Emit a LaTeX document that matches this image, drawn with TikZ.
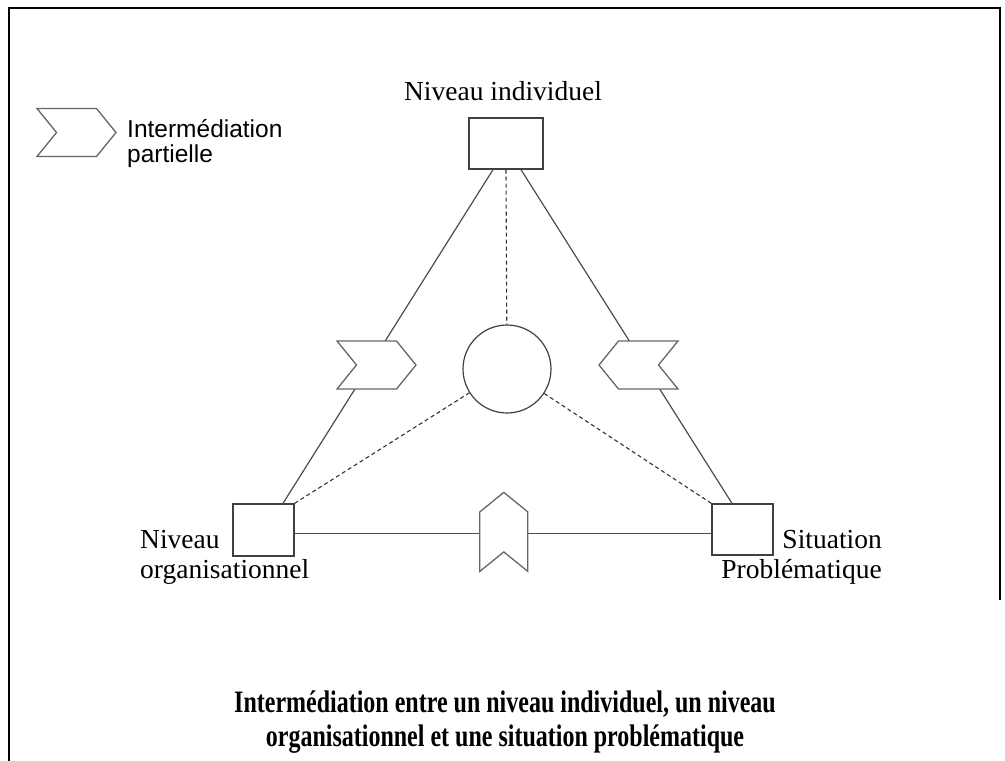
\documentclass[tikz,border=0pt]{standalone}
\usepackage{fontspec}
\setmainfont{Liberation Serif}
\setsansfont{Liberation Sans}
\usetikzlibrary{calc}

\newcommand{\tallline}[1]{\scalebox{1}[1.3]{#1}}

\tikzset{
  box/.style={draw=black!75, line width=1.3pt, fill=white, rectangle, inner sep=0pt},
  hub/.style={draw=black!75, line width=1.2pt, fill=white, circle, inner sep=0pt, minimum size=88pt},
  link/.style={draw=black!70, line width=1.2pt},
  dlink/.style={draw=black!80, line width=1.1pt, dash pattern=on 4pt off 3pt},
  chevstyle/.style={draw=black!60, line width=1.3pt, fill=white, line join=miter},
  chevron/.pic={
    \path[chevstyle] (-39.5,-24) -- (20,-24) -- (39.5,0) -- (20,24)
      -- (-39.5,24) -- (-20,0) -- cycle;
  },
  lbl/.style={inner sep=0pt, font=\fontsize{27.5}{30}\selectfont},
}

\begin{document}
\begin{tikzpicture}[x=1pt, y=-1pt]
  \useasboundingbox (0,0) rectangle (1005,761);

  % page frame
  \draw[line width=2.6pt] (9,761) -- (9,8) -- (1000,8) -- (1000,600);

  % the three levels and the central hub
  \node[box, minimum width=74pt, minimum height=51pt] (ni) at (506,143.5) {};
  \node[box, minimum width=61pt, minimum height=52pt] (no) at (263.5,530) {};
  \node[box, minimum width=61pt, minimum height=51pt] (sp) at (742.5,529.5) {};
  \node[hub] (c) at (507,369) {};

  % solid links between the levels
  \draw[link] ($(ni.south)+(-13,0)$) -- ($(no.north)+(19.5,0)$);
  \draw[link] ($(ni.south)+(15,0)$) -- ($(sp.north)+(-10.5,0)$);
  \draw[link] ($(no.east)+(0,3.5)$) -- ($(sp.west)+(0,4)$);

  % dashed links to the hub
  \draw[dlink] (ni.south) -- (c);
  \draw[dlink] (no.north east) -- (c);
  \draw[dlink] (sp.north west) -- (c);

  % partial intermediation markers
  \pic at (376.5,365) {chevron};
  \pic[xscale=-1] at (638.5,365) {chevron};
  \pic[rotate=90] at (503.8,531.9) {chevron};

  % legend (base anchor = baseline of the last line)
  \pic at (76.5,132.5) {chevron};
  \node[inner sep=0pt, anchor=base west, align=left,
        font=\sffamily\fontsize{24.5}{25}\selectfont] (leg) at (127,162)
        {Intermédiation\\partielle};

  % labels
  \node[lbl, anchor=base] (tni) at (503,100) {Niveau individuel};
  \node[lbl, anchor=base west, align=left] (tno) at (140,578) {Niveau\\organisationnel};
  \node[lbl, anchor=base east, align=right] (tsp) at (882,578) {Situation\\Problématique};

  % caption
  \node[inner sep=0pt, anchor=base, align=center,
        font=\bfseries\fontsize{24}{34}\selectfont] (cap) at (505,746)
        {\tallline{Intermédiation entre un niveau individuel, un niveau}\\
         \tallline{organisationnel et une situation problématique}};
\end{tikzpicture}
\end{document}
